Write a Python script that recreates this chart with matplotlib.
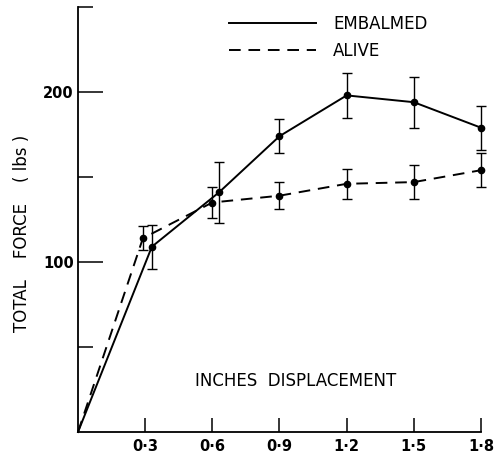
import matplotlib
matplotlib.use("Agg")
import matplotlib.pyplot as plt
from matplotlib.lines import Line2D

# Data
emb_x = [0.0, 0.33, 0.63, 0.9, 1.2, 1.5, 1.8]
emb_y = [0, 109, 141, 174, 198, 194, 179]
emb_err = [0, 13, 18, 10, 13, 15, 13]

alive_x = [0.0, 0.29, 0.6, 0.9, 1.2, 1.5, 1.8]
alive_y = [0, 114, 135, 139, 146, 147, 154]
alive_err = [0, 7, 9, 8, 9, 10, 10]

xticks = [0.3, 0.6, 0.9, 1.2, 1.5, 1.8]
xtick_labels = ["0·3", "0·6", "0·9", "1·2", "1·5", "1·8"]
yticks_major = [100, 200]
yticks_minor = [50, 150, 250]

fig = plt.figure(figsize=(5.02, 4.58), dpi=100)
ax = fig.add_axes([78 / 502, 26 / 458, 403 / 502, 425 / 458])

for xs, ys, es in [(emb_x, emb_y, emb_err), (alive_x, alive_y, alive_err)]:
    eb = ax.errorbar(xs[1:], ys[1:], yerr=es[1:], fmt="none", ecolor="black",
                     elinewidth=1.0, capsize=3.5, capthick=1.0)
    for art in eb.lines[1] + eb.lines[2]:
        art.set_clip_on(False)
ax.plot(emb_x, emb_y, color="black", lw=1.4, ls="-", clip_on=False)
ax.plot(alive_x, alive_y, color="black", lw=1.4, ls=(0, (6, 4)), clip_on=False)
ax.plot(emb_x[1:], emb_y[1:], "o", color="black", ms=4.5, clip_on=False)
ax.plot(alive_x[1:], alive_y[1:], "o", color="black", ms=4.5, clip_on=False)

ax.set_xlim(0, 1.8)
ax.set_ylim(0, 250)
for s in ["top", "right"]:
    ax.spines[s].set_visible(False)
for s in ["left", "bottom"]:
    ax.spines[s].set_linewidth(1.3)

ax.set_xticks(xticks)
ax.set_xticklabels(xtick_labels, fontsize=10.5, fontweight="bold")
ax.set_yticks(yticks_major)
ax.set_yticklabels([str(v) for v in yticks_major], fontsize=10.5, fontweight="bold")
ax.set_yticks(yticks_minor, minor=True)
ax.tick_params(axis="x", direction="in", length=10, width=1.1, pad=5)
ax.tick_params(axis="y", which="major", direction="in", length=18, width=1.1, pad=3)
ax.tick_params(axis="y", which="minor", direction="in", length=11, width=1.1)

fig.text(22 / 502, 1 - 233 / 458, "TOTAL    FORCE    ( lbs )", rotation=90,
         ha="center", va="center", fontsize=12)
ax.text(0.54, 0.12, "INCHES  DISPLACEMENT", transform=ax.transAxes, ha="center",
        va="center", fontsize=12)

handles = [Line2D([], [], color="black", lw=1.4, ls="-"),
           Line2D([], [], color="black", lw=1.4, ls=(0, (6, 4)))]
ax.legend(handles, ["EMBALMED", "ALIVE"], frameon=False, loc="upper left",
          bbox_to_anchor=(214 / 502, 1 - 0 / 458), bbox_transform=fig.transFigure,
          handlelength=5.2, handletextpad=1.05, labelspacing=0.52,
          prop={"size": 12})

fig.savefig("out.png", dpi=100)
